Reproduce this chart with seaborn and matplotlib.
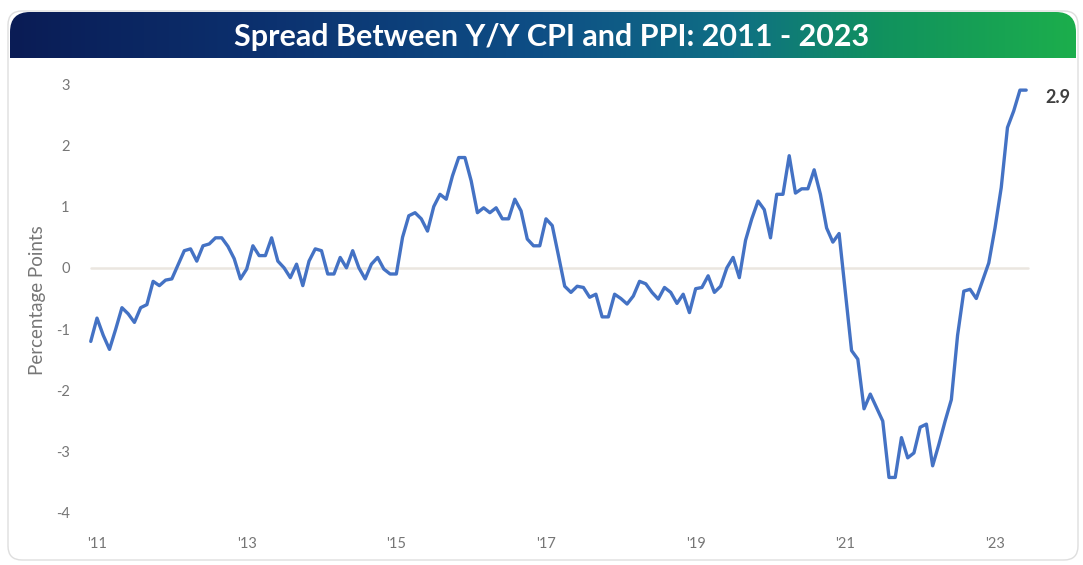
import numpy as np
import pandas as pd
import matplotlib
matplotlib.use("Agg")
import matplotlib.pyplot as plt
import seaborn as sns
from matplotlib.patches import FancyBboxPatch
from matplotlib.transforms import IdentityTransform
from matplotlib.colors import LinearSegmentedColormap

# Monthly spread (Y/Y CPI minus Y/Y PPI), percentage points, Dec 2010 - Jun 2023
first_month = "2010-12"
spread = [
    -1.2,
    -0.82, -1.1, -1.33, -1.0, -0.65, -0.75, -0.89, -0.65, -0.6, -0.22, -0.29, -0.2,
    -0.18, 0.05, 0.28, 0.31, 0.11, 0.36, 0.39, 0.49, 0.49, 0.35, 0.15, -0.18,
    -0.02, 0.36, 0.2, 0.2, 0.49, 0.11, 0.0, -0.16, 0.06, -0.29, 0.11, 0.31,
    0.28, -0.1, -0.1, 0.17, 0.0, 0.28, 0.0, -0.18, 0.06, 0.17, -0.02, -0.1,
    -0.1, 0.5, 0.85, 0.9, 0.8, 0.6, 1.0, 1.2, 1.12, 1.5, 1.8, 1.8,
    1.42, 0.9, 0.98, 0.9, 0.98, 0.8, 0.8, 1.12, 0.93, 0.47, 0.36, 0.36,
    0.8, 0.69, 0.2, -0.3, -0.4, -0.3, -0.32, -0.48, -0.43, -0.8, -0.8, -0.43,
    -0.5, -0.59, -0.46, -0.22, -0.26, -0.4, -0.51, -0.32, -0.4, -0.58, -0.43, -0.73,
    -0.34, -0.32, -0.13, -0.4, -0.3, 0.0, 0.17, -0.16, 0.45, 0.8, 1.09, 0.95,
    0.49, 1.2, 1.2, 1.83, 1.22, 1.29, 1.29, 1.6, 1.2, 0.65, 0.42, 0.56,
    -0.4, -1.35, -1.49, -2.3, -2.06, -2.28, -2.5, -3.42, -3.42, -2.77, -3.1, -3.02,
    -2.6, -2.55, -3.23, -2.88, -2.5, -2.15, -1.1, -0.38, -0.35, -0.5, -0.21, 0.08,
    0.65, 1.31, 2.29, 2.56, 2.9, 2.9,
]

title = "Spread Between Y/Y CPI and PPI: 2011 - 2023"
y_label = "Percentage Points"
y_ticks = [-4, -3, -2, -1, 0, 1, 2, 3]
x_tick_years = [2011, 2013, 2015, 2017, 2019, 2021, 2023]
x_tick_labels = ["'11", "'13", "'15", "'17", "'19", "'21", "'23"]

months = pd.period_range(first_month, periods=len(spread), freq="M")
df = pd.DataFrame({
    "year": months.year + (months.month - 1) / 12.0,
    "spread": spread,
})

sns.set_theme(style="white")
plt.rcParams["font.family"] = ["Lato", "DejaVu Sans"]

W, H = 1083, 565
fig = plt.figure(figsize=(W / 100, H / 100), dpi=100)
fig.patch.set_facecolor("white")


def px_box(x0, y0, x1, y1):
    """Figure-fraction rect from pixel coords measured from the top-left."""
    return [x0 / W, 1 - y1 / H, (x1 - x0) / W, (y1 - y0) / H]


# Outer card outline (pixel space, origin bottom-left)
card = FancyBboxPatch((8, H - 560), 1070, 549,
                      boxstyle="round,pad=0,rounding_size=14",
                      transform=IdentityTransform(), fc="none",
                      ec="#dedede", lw=1.0, zorder=0)
fig.patches.append(card)

# Title banner with navy-to-green gradient and rounded top corners
bx0, by0, bx1, by1 = 10, 12, 1076, 58
bax = fig.add_axes(px_box(bx0, by0, bx1, by1))
bax.set_axis_off()
grad_cmap = LinearSegmentedColormap.from_list(
    "banner",
    [(0.0, "#0a1c55"), (0.25, "#0c3270"), (0.5, "#0e4f86"),
     (0.68, "#0f6f84"), (0.82, "#11925e"), (1.0, "#1cae4c")])
bax.imshow(np.linspace(0, 1, 512)[None, :], cmap=grad_cmap, aspect="auto",
           extent=[0, 1, 0, 1], interpolation="bicubic")
bax.set_xlim(0, 1)
bax.set_ylim(0, 1)
clip = FancyBboxPatch((bx0, H - by1 - 30), bx1 - bx0, by1 - by0 + 30,
                      boxstyle="round,pad=0,rounding_size=20",
                      transform=IdentityTransform(), fc="none", ec="none")
bax.images[0].set_clip_path(clip)
bax.text(0.508, 0.46, title, transform=bax.transAxes, ha="center", va="center",
         color="white", fontsize=22, fontweight="bold")

# Main plotting area
ax = fig.add_axes(px_box(85, 75, 1045, 525))
ax.set_facecolor("none")
sns.lineplot(data=df, x="year", y="spread", ax=ax, color="#4472C4",
             linewidth=2.4, zorder=3)

x0_px, x1_px = 85, 1045
ppy = (995 - 97) / 12.0
ax.set_xlim(2011 - (97 - x0_px) / ppy, 2023 + (x1_px - 995) / ppy)
ppu = (513 - 84) / 7.0
ax.set_ylim(-4 - (525 - 513) / ppu, 3 + (84 - 75) / ppu)

# Zero reference line spanning the data range
xmin, xmax = ax.get_xlim()
ax.axhline(0, xmin=(df["year"].iloc[0] - xmin) / (xmax - xmin),
           xmax=(df["year"].iloc[-1] + 0.02 - xmin) / (xmax - xmin),
           color="#ebe6e0", lw=1.8, zorder=1)

ax.set_xticks(x_tick_years)
ax.set_xticklabels(x_tick_labels)
ax.set_yticks(y_ticks)
ax.set_yticklabels([str(v) for v in y_ticks])
ax.tick_params(axis="both", length=0, labelsize=10.5, labelcolor="#767676")
ax.tick_params(axis="y", pad=11)
ax.tick_params(axis="x", pad=9)
for s in ax.spines.values():
    s.set_visible(False)

ax.set_xlabel("")
ax.set_ylabel(y_label, fontsize=13.5, color="#767676")
ax.yaxis.set_label_coords((46 - 85) / 960, (525 - 300) / 450)

# Latest value label
last_x = df["year"].iloc[-1]
last_y = df["spread"].iloc[-1]
ax.annotate(f"{last_y:.1f}", xy=(last_x, last_y), xytext=(19, -7),
            textcoords="offset pixels", ha="left", va="center",
            fontsize=13, fontweight="bold", color="#3f3f3f",
            annotation_clip=False)

fig.savefig("out.png", dpi=100)
